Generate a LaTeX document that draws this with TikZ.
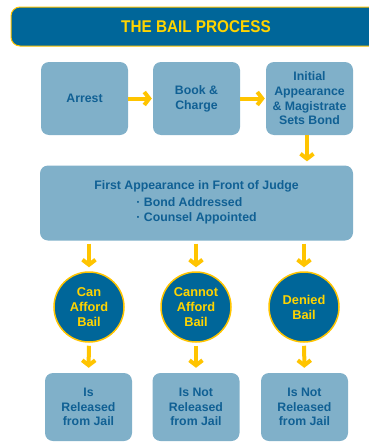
\documentclass[tikz,border=0pt]{standalone}
\usepackage{fontspec}
\setmainfont{Liberation Sans}
\newfontfamily\titlefont[FakeStretch=0.9]{Liberation Sans}
\usepackage{xcolor}
\usepackage{tikz}
\usetikzlibrary{arrows.meta,positioning}
\definecolor{bailblue}{RGB}{0,102,153}
\definecolor{boxblue}{RGB}{128,176,201}
\definecolor{textblue}{RGB}{16,96,148}
\definecolor{bailyellow}{RGB}{255,196,0}
\definecolor{titleyellow}{RGB}{255,212,0}
\def\largeur{369}
\def\hauteur{442}

\begin{document}
\begin{tikzpicture}[x=1pt, y=-1pt,
    titlebar/.style={fill=bailblue, draw=bailyellow, line width=1pt, rounded corners=9pt,
        minimum width=370pt, minimum height=39pt, text=titleyellow,
        font=\titlefont\bfseries\fontsize{17}{20}\selectfont},
    stepbox/.style={fill=boxblue, rounded corners=8pt, minimum width=87pt, minimum height=73pt,
        inner sep=1pt, align=center, text=textblue, font=\bfseries\fontsize{12.3}{14.7}\selectfont},
    choice/.style={circle, fill=bailblue, draw=bailyellow, line width=1.5pt, minimum size=70pt,
        inner sep=0pt, align=center, text=titleyellow, font=\bfseries\fontsize{12.8}{15}\selectfont},
    flow/.style={draw=bailyellow, line width=4pt, -{Straight Barb[length=5pt,width=13pt]}}]
\useasboundingbox (0,0) rectangle (\largeur,\hauteur);
%\draw[step=10pt, black!20] (0,0) grid (\largeur,\hauteur);
    \node[titlebar] (title) at (196,26.5) {THE BAIL PROCESS};
    % first row
    \node[stepbox] (arrest)  at (84.5,98.5)  {Arrest};
    \node[stepbox] (book)    at (196.5,98.5) {Book \&\\Charge};
    \node[stepbox] (initial) at (309.5,98.5) {Initial\\Appearance\\\& Magistrate\\Sets Bond};
    \node[stepbox, minimum width=313pt, minimum height=75pt] (judge) at (196.5,203)
        {First Appearance in Front of Judge\\[3pt]
         \begin{tabular}{@{}l@{}}· Bond Addressed\\· Counsel Appointed\end{tabular}};
    % outcomes
    \node[choice] (afford)   at (89,307)  {Can\\Afford\\Bail};
    \node[choice] (noafford) at (196,307) {Cannot\\Afford\\Bail};
    \node[choice] (denied)   at (304,307) {Denied\\Bail};
    \node[stepbox, minimum height=68pt] (released) at (88.5,407)  {Is\\Released\\from Jail};
    \node[stepbox, minimum height=68pt] (held)     at (196,407)   {Is Not\\Released\\from Jail};
    \node[stepbox, minimum height=68pt] (jailed)   at (304.5,407) {Is Not\\Released\\from Jail};
    % arrows
    \draw[flow, shorten >=1pt] (arrest) -- (book);
    \draw[flow, shorten >=1pt] (book) -- (initial);
    \draw[flow, shorten >=4pt] ([xshift=-2.5pt]initial.south) -- ([xshift=-2.5pt]initial.south |- judge.north);
    \foreach \n in {afford,noafford,denied}
        \draw[flow, shorten <=3pt, shorten >=4pt] (judge.south -| \n.north) -- (\n.north);
    \draw[flow, shorten <=3pt, shorten >=5pt] (afford) -- (released);
    \draw[flow, shorten <=3pt, shorten >=5pt] (noafford) -- (held);
    \draw[flow, shorten <=3pt, shorten >=5pt] (denied) -- (jailed);
\end{tikzpicture}
\end{document}
